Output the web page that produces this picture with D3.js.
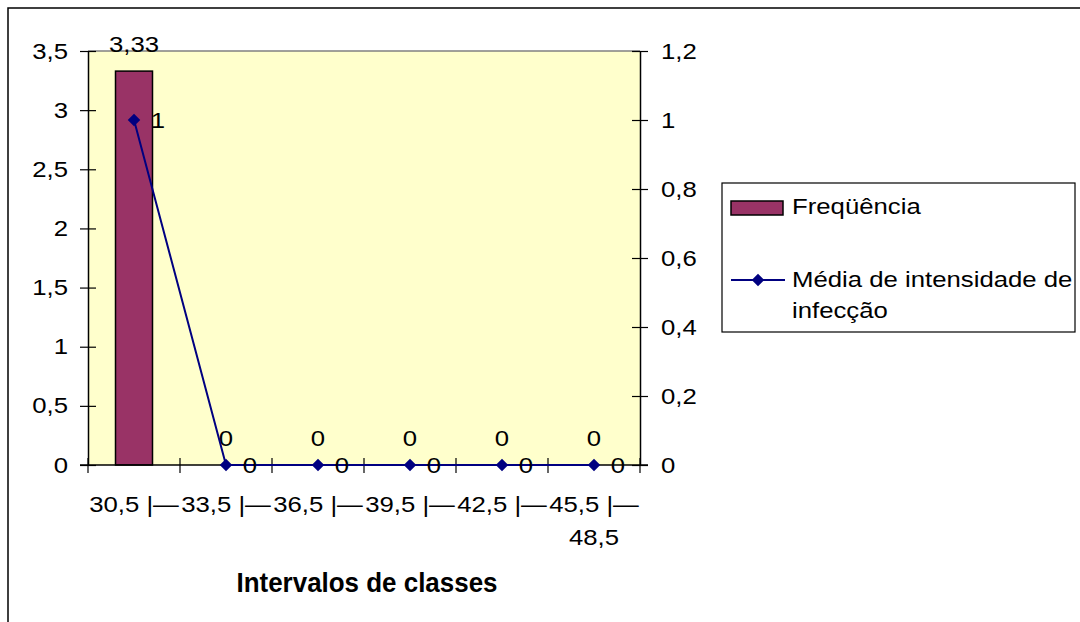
<!DOCTYPE html>
<html>
<head>
<meta charset="utf-8">
<script src="https://cdn.jsdelivr.net/npm/d3@7/dist/d3.min.js"></script>
<style>
  html, body { margin: 0; padding: 0; background: #fff; }
  svg { display: block; font-family: "Liberation Sans", Arial, sans-serif; }
</style>
</head>
<body>
<svg id="chart" width="1080" height="622"></svg>
<script>
// Class intervals (the last one wraps onto two lines)
const categories = ["30,5 |—", "33,5 |—", "36,5 |—", "39,5 |—", "42,5 |—", "45,5 |—48,5"];
// Frequency per interval (left axis)
const frequencia = [3.33, 0, 0, 0, 0, 0];
// Mean infection intensity per interval (right axis)
const mediaIntensidade = [1, 0, 0, 0, 0, 0];
// Axis tick values and their labels
const leftTicks = [0, 0.5, 1, 1.5, 2, 2.5, 3, 3.5];
const rightTicks = [0, 0.2, 0.4, 0.6, 0.8, 1, 1.2];
const fmt = v => String(v).replace(".", ",");

const FS = 22;        // base font size
const WIDEN = 1.17;   // horizontal widening of the text glyphs

// Widen a text element horizontally around its own x anchor
function widen(sel) {
  sel.each(function () {
    const t = d3.select(this);
    const ax = +t.attr("x") || 0;
    t.attr("transform", `matrix(${WIDEN},0,0,1,${ax * (1 - WIDEN)},0)`);
  });
  return sel;
}

const svg = d3.select("#chart");
const plot = { left: 88, right: 640, top: 51, bottom: 465 };

// Outer chart frame (only top and left edges fall inside the view)
svg.append("path")
  .attr("d", "M8,622 V8 H1080")
  .attr("fill", "none").attr("stroke", "#000").attr("stroke-width", 1.5);

const x = d3.scaleBand().domain(categories).range([plot.left, plot.right]);
const yL = d3.scaleLinear().domain([0, 3.5]).range([plot.bottom, plot.top]);
const yR = d3.scaleLinear().domain([0, 1.2]).range([plot.bottom, plot.top]);

// Plot area background
svg.append("rect")
  .attr("x", plot.left).attr("y", plot.top)
  .attr("width", plot.right - plot.left).attr("height", plot.bottom - plot.top)
  .attr("fill", "#ffffcc");
svg.append("line")
  .attr("x1", plot.left).attr("x2", plot.right)
  .attr("y1", plot.top).attr("y2", plot.top)
  .attr("stroke", "#808080").attr("stroke-width", 1.5);

// Bars
const barW = 37;
svg.selectAll("rect.bar").data(frequencia).join("rect")
  .attr("class", "bar")
  .attr("x", (d, i) => x(categories[i]) + x.bandwidth() / 2 - barW / 2)
  .attr("y", d => yL(d))
  .attr("width", barW)
  .attr("height", d => yL(0) - yL(d))
  .attr("fill", "#993366")
  .attr("stroke", "#000").attr("stroke-width", 1.5);

// Left axis
const axisL = d3.axisLeft(yL).tickValues(leftTicks).tickFormat(fmt).tickSizeInner(8).tickSizeOuter(0).tickPadding(12);
const gL = svg.append("g").attr("transform", `translate(${plot.left},0)`).call(axisL);
// Right axis
const axisR = d3.axisRight(yR).tickValues(rightTicks).tickFormat(fmt).tickSizeInner(8).tickSizeOuter(0).tickPadding(13);
const gR = svg.append("g").attr("transform", `translate(${plot.right},0)`).call(axisR);
// Bottom axis with ticks between categories
const boundaries = d3.range(categories.length + 1).map(i => plot.left + i * x.step());
const gB = svg.append("g");
gB.append("line")
  .attr("x1", plot.left - 8).attr("x2", plot.right + 8)
  .attr("y1", plot.bottom).attr("y2", plot.bottom)
  .attr("stroke", "#000").attr("stroke-width", 1.5);
gB.selectAll("line.tk").data(boundaries).join("line")
  .attr("class", "tk")
  .attr("x1", d => d).attr("x2", d => d)
  .attr("y1", plot.bottom - 7).attr("y2", plot.bottom + 8)
  .attr("stroke", "#000").attr("stroke-width", 1.2);

[gL, gR].forEach(g => {
  g.attr("font-size", FS).attr("font-family", "Liberation Sans, Arial, sans-serif");
  g.select(".domain").attr("stroke", "#000").attr("stroke-width", 1.5);
  g.selectAll(".tick line").attr("stroke", "#000").attr("stroke-width", 1.2);
  g.selectAll(".tick text").attr("fill", "#000").call(widen);
});
gL.selectAll(".tick line").attr("x2", -8).attr("x1", 8);
gR.selectAll(".tick line").attr("x1", -8).attr("x2", 8);

// Category labels (the last one breaks after "|—")
gB.selectAll("text.cat").data(categories).join("text")
  .attr("class", "cat")
  .attr("x", d => x(d) + x.bandwidth() / 2)
  .attr("y", 512)
  .attr("text-anchor", "middle")
  .attr("font-size", FS)
  .each(function (d) {
    const cut = d.indexOf("—") + 1;
    const parts = cut === d.length ? [d] : [d.slice(0, cut), d.slice(cut)];
    const t = d3.select(this);
    parts.forEach((p, j) => {
      t.append("tspan").attr("x", x(d) + x.bandwidth() / 2).attr("dy", j === 0 ? 0 : 33).text(p);
    });
  })
  .call(widen);

// Axis title
svg.append("text")
  .attr("x", 367).attr("y", 592)
  .attr("text-anchor", "middle")
  .attr("font-size", 27).attr("font-weight", "bold")
  .attr("textLength", 261).attr("lengthAdjust", "spacingAndGlyphs")
  .text("Intervalos de classes");

// Bar value labels
svg.selectAll("text.barlab").data(frequencia).join("text")
  .attr("class", "barlab")
  .attr("x", (d, i) => x(categories[i]) + x.bandwidth() / 2)
  .attr("y", d => yL(d) - 19)
  .attr("text-anchor", "middle")
  .attr("font-size", FS)
  .text(d => fmt(d))
  .call(widen);

// Line series
const cx = i => x(categories[i]) + x.bandwidth() / 2;
const line = d3.line().x((d, i) => cx(i)).y(d => yR(d));
svg.append("path").datum(mediaIntensidade)
  .attr("d", line)
  .attr("fill", "none").attr("stroke", "#000080").attr("stroke-width", 2);
const diamond = d3.symbol().type(d3.symbolDiamond2).size(100);
svg.selectAll("path.mk").data(mediaIntensidade).join("path")
  .attr("class", "mk")
  .attr("d", diamond)
  .attr("transform", (d, i) => `translate(${cx(i)},${yR(d)})`)
  .attr("fill", "#000080");
svg.selectAll("text.linelab").data(mediaIntensidade).join("text")
  .attr("class", "linelab")
  .attr("x", (d, i) => cx(i) + 24)
  .attr("y", d => yR(d) + 8)
  .attr("text-anchor", "middle")
  .attr("font-size", FS)
  .text(d => fmt(d))
  .call(widen);

// Legend
const lg = svg.append("g").attr("font-size", FS);
lg.append("rect").attr("x", 722).attr("y", 183).attr("width", 353).attr("height", 149)
  .attr("fill", "#fff").attr("stroke", "#000").attr("stroke-width", 1.2);
lg.append("rect").attr("x", 731).attr("y", 201).attr("width", 52).attr("height", 14)
  .attr("fill", "#993366").attr("stroke", "#000").attr("stroke-width", 1.5);
lg.append("text").attr("x", 792).attr("y", 214).text("Freqüência").call(widen);
lg.append("line").attr("x1", 731).attr("x2", 785).attr("y1", 280).attr("y2", 280)
  .attr("stroke", "#000080").attr("stroke-width", 2);
lg.append("path").attr("d", diamond).attr("transform", "translate(758,280)").attr("fill", "#000080");
lg.append("text").attr("x", 792).attr("y", 287).text("Média de intensidade de").call(widen);
lg.append("text").attr("x", 792).attr("y", 318).text("infecção").call(widen);
</script>
</body>
</html>
